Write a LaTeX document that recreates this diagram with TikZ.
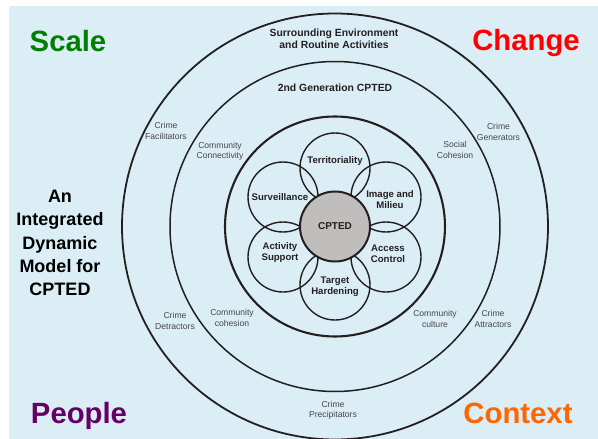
\documentclass[tikz,border=0pt]{standalone}
\usepackage{fontspec}
\setmainfont{Liberation Sans}
\definecolor{bgblue}{RGB}{220,238,245}
\definecolor{ink}{RGB}{35,31,32}
\definecolor{labelgray}{RGB}{70,70,70}
\definecolor{hubgray}{RGB}{192,190,188}
\definecolor{scalegreen}{RGB}{0,128,0}
\definecolor{peoplepurple}{RGB}{102,0,102}
\definecolor{contextorange}{RGB}{255,102,0}
\tikzset{
  x=1pt,y=-1pt,
  ring/.style={circle,draw=ink,minimum size=#1,inner sep=0pt,outer sep=0pt},
  corner/.style={font=\fontsize{29.3}{29}\selectfont\bfseries},
  small/.style={font=\fontsize{8.6}{10.2}\selectfont,text=labelgray,align=center,inner sep=0pt},
  petal/.style={font=\fontsize{9.6}{11}\selectfont\bfseries,text=ink,align=center,inner sep=0pt},
  head/.style={font=\fontsize{10.4}{11.8}\selectfont\bfseries,text=ink,align=center,inner sep=0pt},
}
\begin{document}
\begin{tikzpicture}
\useasboundingbox (0,0) rectangle (598,439);
\fill[white] (0,0) rectangle (598,439);
\fill[bgblue] (9,6) rectangle (598,439);
\begin{scope}
\clip (0,0) rectangle (598,439);
\node[ring=426pt,line width=1.8pt] (outer) at (335,226.5) {};
\end{scope}
\node[ring=330pt,line width=1.5pt] (middle) at (335,226.5) {};
\node[ring=220pt,line width=2.1pt] (inner) at (335,226.5) {};
\node[ring=70pt,line width=1.4pt] (pT) at (335,168) {};
\node[ring=70pt,line width=1.4pt] (pS) at (283,197) {};
\node[ring=70pt,line width=1.4pt] (pI) at (386,197) {};
\node[ring=70pt,line width=1.4pt] (pA) at (283,257) {};
\node[ring=70pt,line width=1.4pt] (pC) at (386,257) {};
\node[ring=70pt,line width=1.4pt] (pH) at (335,285) {};
\node[ring=70pt,line width=2pt,fill=hubgray] (hub) at (335,226.5) {};
\node[petal,font=\fontsize{10}{11}\selectfont\bfseries] (hubt) at (335,226.5) {CPTED};
\node[petal] (t1) at (335,161.5) {Territoriality};
\node[petal] (t2) at (280,197) {Surveillance};
\node[petal] (t3) at (390,200) {Image and\\Milieu};
\node[petal] (t4) at (280,253) {Activity\\Support};
\node[petal] (t5) at (388,254) {Access\\Control};
\node[petal] (t6) at (335,286.5) {Target\\Hardening};
\node[head] (h1) at (334,39) {Surrounding Environment\\and Routine Activities};
\node[head] (h2) at (335,88) {2nd Generation CPTED};
\node[small] (c1) at (166,131) {Crime\\Facilitators};
\node[small] (c2) at (220,151) {Community\\Connectivity};
\node[small] (c3) at (455,150) {Social\\Cohesion};
\node[small] (c4) at (498.5,132) {Crime\\Generators};
\node[small] (c5) at (175,321) {Crime\\Detractors};
\node[small] (c6) at (232,318) {Community\\cohesion};
\node[small] (c7) at (435,319) {Community\\culture};
\node[small] (c8) at (493,319) {Crime\\Attractors};
\node[small] (c9) at (333,410) {Crime\\Precipitators};
\node[corner,text=scalegreen] (s1) at (68,41) {Scale};
\node[corner,text=red] (s2) at (526,42.5) {Change};
\node[corner,text=peoplepurple] (s3) at (79,416) {People};
\node[corner,text=contextorange] (s4) at (518,413) {Context};
\node[font=\fontsize{18}{23.2}\selectfont\bfseries,align=center,text=black,inner sep=0pt] (title) at (60,243) {An\\Integrated\\Dynamic\\Model for\\CPTED};
\end{tikzpicture}
\end{document}
